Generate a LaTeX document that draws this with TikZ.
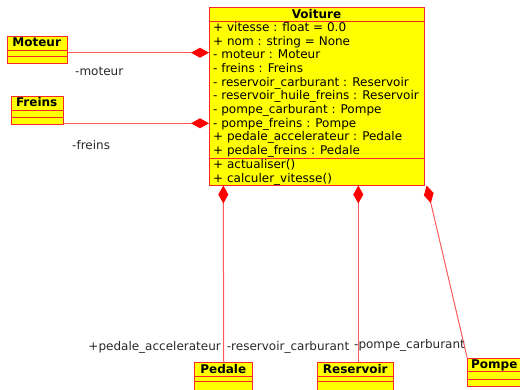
\documentclass[tikz,border=0pt]{standalone}
\usepackage{fontspec}
\setmainfont{DejaVu Sans}
\usetikzlibrary{arrows.meta}
\definecolor{boxyellow}{RGB}{255,255,0}
\definecolor{boxred}{RGB}{250,40,40}
\definecolor{linered}{RGB}{255,90,90}
\definecolor{diamondred}{RGB}{255,0,0}
\definecolor{labelgray}{RGB}{40,40,40}
\begin{document}
\begin{tikzpicture}[x=1pt,y=-1pt,
  classbox/.style={draw=boxred, fill=boxyellow, line width=0.8pt, inner sep=0pt, anchor=north west},
  ctitle/.style={font=\fontsize{12}{14}\selectfont\bfseries, inner sep=0pt, anchor=base},
  member/.style={font=\fontsize{12}{14}\selectfont, inner sep=0pt, anchor=base west},
  role/.style={font=\fontsize{12}{14}\selectfont, inner sep=0pt, text=labelgray, anchor=base west},
  sepline/.style={draw=boxred, line width=0.8pt},
  comp/.style={draw=linered, line width=1pt, {Diamond[length=18pt,width=10pt,fill=diamondred,color=diamondred]}-}
]
\useasboundingbox (0,0) rectangle (520,389);
\begin{scope}
\clip (0,0) rectangle (520,389);
% Voiture
\node[classbox, minimum width=215pt, minimum height=178pt] (voiture) at (209,7) {};
\draw[sepline] (209,21.3) -- (424,21.3);
\draw[sepline] (209,158.7) -- (424,158.7);
\node[ctitle] (vt) at (316.5,18.4) {Voiture};
\node[member] (a1) at (213,31.3) {+ vitesse : float = 0.0};
\node[member] (a2) at (213,45.0) {+ nom : string = None};
\node[member] (a3) at (213,58.7) {- moteur : Moteur};
\node[member] (a4) at (213,72.4) {- freins : Freins};
\node[member] (a5) at (213,86.1) {- reservoir\_carburant : Reservoir};
\node[member] (a6) at (213,99.8) {- reservoir\_huile\_freins : Reservoir};
\node[member] (a7) at (213,113.5) {- pompe\_carburant : Pompe};
\node[member] (a8) at (213,127.2) {- pompe\_freins : Pompe};
\node[member] (a9) at (213,140.9) {+ pedale\_accelerateur : Pedale};
\node[member] (a10) at (213,154.6) {+ pedale\_freins : Pedale};
\node[member] (m1) at (213,168.7) {+ actualiser()};
\node[member] (m2) at (213,182.3) {+ calculer\_vitesse()};
% Moteur
\node[classbox, minimum width=60pt, minimum height=27.6pt] (moteur) at (6.7,35.7) {};
\draw[sepline] (6.7,50) -- (66.7,50);
\draw[sepline] (6.7,56.7) -- (66.7,56.7);
\node[ctitle] (mt) at (36.7,46.8) {Moteur};
% Freins
\node[classbox, minimum width=52pt, minimum height=28pt] (freins) at (10.7,96) {};
\draw[sepline] (10.7,110.7) -- (62.7,110.7);
\draw[sepline] (10.7,117.3) -- (62.7,117.3);
\node[ctitle] (ft) at (36.7,106.8) {Freins};
% Pedale
\node[classbox, minimum width=58pt, minimum height=40pt] (pedale) at (194.3,361.7) {};
\draw[sepline] (194.3,376) -- (252.3,376);
\draw[sepline] (194.3,381.7) -- (252.3,381.7);
\node[ctitle] (pt) at (223.3,373) {Pedale};
% Reservoir
\node[classbox, minimum width=76pt, minimum height=40pt] (reservoir) at (317.3,361.7) {};
\draw[sepline] (317.3,376) -- (393.3,376);
\draw[sepline] (317.3,381.7) -- (393.3,381.7);
\node[ctitle] (rt) at (355.3,373) {Reservoir};
% Pompe
\node[classbox, minimum width=70pt, minimum height=27.7pt] (pompe) at (467.3,358.3) {};
\draw[sepline] (467.3,371.7) -- (537.3,371.7);
\draw[sepline] (467.3,379) -- (537.3,379);
\node[ctitle, anchor=base west] (pot) at (471,368.5) {Pompe};
\end{scope}
% connectors
\coordinate (vm) at (209,52.7);
\coordinate (vf) at (209,123.3);
\coordinate (vp) at (223.3,185.5);
\coordinate (vr) at (358.3,185.5);
\coordinate (vpo) at (426.7,185.5);
\draw[comp] (vm) -- (moteur.east |- vm);
\draw[comp] (vf) -- (freins.east |- vf);
\draw[comp] (vp) -- (pedale.north);
\draw[comp] (vr) -- (vr |- reservoir.north);
\draw[comp] (vpo) -- (pompe.north west);
% role labels
\node[role] (l1) at (75,75) {-moteur};
\node[role] (l2) at (72,149) {-freins};
\node[role, anchor=base east] (l3) at (221,350.7) {+pedale\_accelerateur};
\node[role] (l4) at (226.7,350.7) {-reservoir\_carburant};
\node[role] (l5) at (354,348) {-pompe\_carburant};
\end{tikzpicture}
\end{document}
